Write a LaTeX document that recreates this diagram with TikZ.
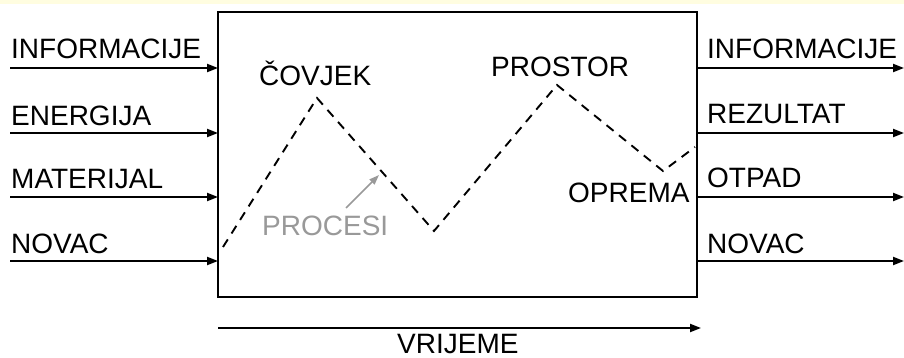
\documentclass[tikz,border=0pt]{standalone}
\usepackage{fontspec}
\setmainfont{Liberation Sans}
\usetikzlibrary{arrows.meta,positioning}

\begin{document}
\begin{tikzpicture}[
    x=1pt, y=-1pt,
    label/.style={font=\fontsize{28}{30}\selectfont, inner sep=0pt, anchor=base west},
    flow/.style={-{Triangle[length=11pt,width=8pt]}, line width=2pt},
    process/.style={dash pattern=on 9pt off 7pt, line width=1.9pt},
    system/.style={draw, line width=2.8pt, minimum width=479pt, minimum height=285pt, inner sep=0pt, outer sep=0pt, anchor=north west}
]
\useasboundingbox (0,0) rectangle (904,358);
\fill[yellow!12] (0,0) rectangle (904,4);

% System box
\node[system] (sys) at (218,12) {};

% Inputs
\node[label] (inInfo) at (11,59) {INFORMACIJE};
\node[label] (inEnergy) at (11,126) {ENERGIJA};
\node[label] (inMat) at (11,189) {MATERIJAL};
\node[label] (inMoney) at (11,253) {NOVAC};
\coordinate (a1) at (10,68);
\coordinate (a2) at (10,133);
\coordinate (a3) at (10,197);
\coordinate (a4) at (10,261);

% Outputs
\node[label] (outInfo) at (707,59) {INFORMACIJE};
\node[label] (outResult) at (707,124) {REZULTAT};
\node[label] (outWaste) at (707,188) {OTPAD};
\node[label] (outMoney) at (707,253) {NOVAC};
\coordinate (b1) at (904,68);
\coordinate (b2) at (904,133);
\coordinate (b3) at (904,197);
\coordinate (b4) at (904,261);

% Process line
\coordinate (p0) at (223,247);
\coordinate (p1) at (317,98);
\coordinate (p2) at (434,231);
\coordinate (p3) at (557,85);
\coordinate (p4) at (663,171);
\coordinate (p5) at (695,147);
\node[label] (man) at (259,86) {ČOVJEK};
\node[label] (space) at (491,77) {PROSTOR};
\node[label] (equip) at (568,202) {OPREMA};
\node[label, text=gray!80] (proc) at (262,235) {PROCESI};
\coordinate (procTip) at (379,175);

% Time axis
\coordinate (t0) at (218,328);
\coordinate (t1) at (701,328);
\node[label, text depth=0pt] (time) at (397,353) {VRIJEME};

% Connections
\draw[flow] (a1) -- (a1 -| sys.west);
\draw[flow] (a2) -- (a2 -| sys.west);
\draw[flow] (a3) -- (a3 -| sys.west);
\draw[flow] (a4) -- (a4 -| sys.west);
\draw[flow] (b1 -| sys.east) -- (b1);
\draw[flow] (b2 -| sys.east) -- (b2);
\draw[flow] (b3 -| sys.east) -- (b3);
\draw[flow] (b4 -| sys.east) -- (b4);
\draw[process] (p0) -- (p1) -- (p2) -- (p3) -- (p4) -- (p5);
\draw[-{Triangle[length=10pt,width=7pt]}, line width=1.6pt, gray!80] (346,208) -- (procTip);
\draw[flow] (t0) -- (t1);

\end{tikzpicture}
\end{document}
